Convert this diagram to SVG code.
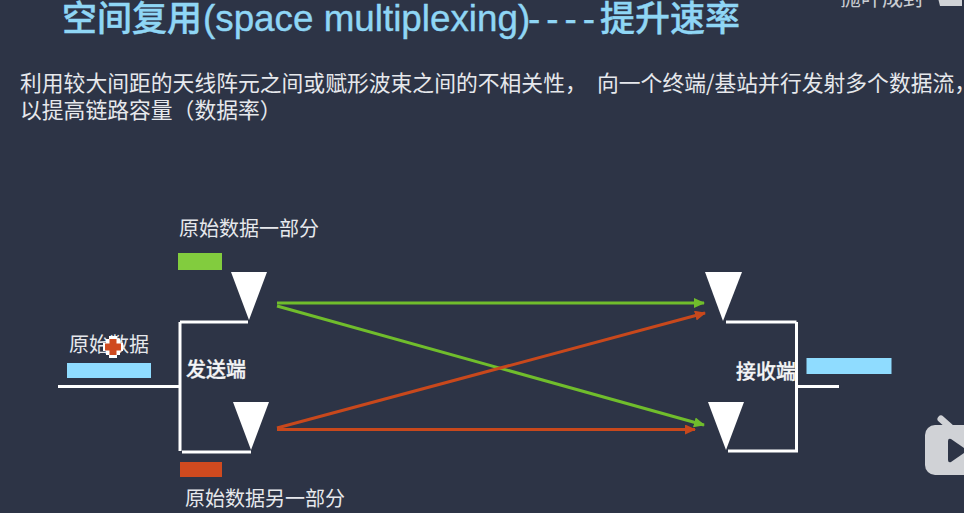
<svg xmlns="http://www.w3.org/2000/svg" width="964" height="513" viewBox="0 0 964 513">
<style>
text{font-family:"Noto Sans CJK SC","Liberation Sans",sans-serif;fill:#e6e8ec}
.title{font-family:"Liberation Sans","Noto Sans CJK SC",sans-serif;font-size:35px;font-weight:500;fill:#8fd6f5;stroke:#8fd6f5;stroke-width:.4px}
.latin{font-size:36.800px}
.dash{font-size:36.800px;letter-spacing:6px}
.body{font-size:21.800px}
.lab{font-size:20px}
.end{font-size:20px;font-weight:500;fill:#f4f5f6;stroke:#f4f5f6;stroke-width:.3px}
.ant{fill:#fff}
.wire{stroke:#fff;stroke-width:3;fill:none}
.g{stroke:#70bd2c;stroke-width:3;fill:none}
.o{stroke:#c8481c;stroke-width:3;fill:none}
</style>
<defs>
<marker id="ag" markerUnits="userSpaceOnUse" markerWidth="12" markerHeight="12" refX="10" refY="5" orient="auto"><path d="M0 0L11 5L0 10z" fill="#70bd2c"/></marker>
<marker id="ao" markerUnits="userSpaceOnUse" markerWidth="12" markerHeight="12" refX="10" refY="5" orient="auto"><path d="M0 0L11 5L0 10z" fill="#c8481c"/></marker>
</defs>
<rect width="964" height="513" fill="#2d3446"/>
<g id="title"><text class="title" x="62" y="31">空间复用<tspan class="latin" x="203">(space multiplexing)</tspan><tspan class="dash" x="528">----</tspan><tspan x="600">提升速率</tspan></text></g>
<g id="intro">
<text class="body" x="20" y="91">利用较大间距的天线阵元之间或赋形波束之间的不相关性，<tspan x="597">向一个终端/基站并行发射多个数据流，</tspan></text>
<text class="body" x="20" y="118">以提高链路容量（数据率）</text>
</g>
<g id="watermark"><text x="840" y="5" font-size="21" style="fill:#c9ccd2">抛叶成封</text><path d="M938 -2h24v8h-22z" fill="#d0d2d6"/></g>
<g id="connectors">
<path class="wire" d="M58 386.500H179M180 322V451M180 322H248M182 452H251M726 322H796.500M796.500 322V452.500M728 451H797M798 386.500H839"/>
<path class="g" d="M277 303H704" marker-end="url(#ag)"/>
<path class="g" d="M277 306L704 425" marker-end="url(#ag)"/>
<path class="o" d="M277 428L705 313" marker-end="url(#ao)"/>
<path class="o" d="M277 429.500H695" marker-end="url(#ao)"/>
</g>
<g id="tx-top"><polygon class="ant" points="231,272 267,272 249,320"/></g>
<g id="tx-bottom"><polygon class="ant" points="233,402 269,402 251,450"/></g>
<g id="rx-top"><polygon class="ant" points="705,272 742,272 723,321"/></g>
<g id="rx-bottom"><polygon class="ant" points="708,402 744,402 726,450"/></g>
<g id="part-one"><text class="lab" x="179" y="236">原始数据一部分</text><rect x="178" y="253" width="44" height="17" fill="#82cc3e"/></g>
<g id="part-two"><rect x="180" y="462" width="42" height="15" fill="#cf4a1f"/><text class="lab" x="185" y="506">原始数据另一部分</text></g>
<g id="source"><text class="lab" x="69" y="352">原始数据</text><rect x="67" y="363" width="84" height="15" fill="#8fdcff"/></g>
<g id="sender"><text class="end" x="186" y="377">发送端</text></g>
<g id="receiver"><text class="end" x="736" y="379">接收端</text></g>
<g id="output"><rect x="806.500" y="358" width="85" height="16" fill="#8fdcff"/></g>
<g id="cursor"><path d="M109 336h8v3h3v4h3v8h-3v4h-3v3h-8v-3h-3v-4h-3v-8h3v-4h3z" fill="#fff"/><path d="M109.500 339h7v4.500h4.500v7h-4.500v4.500h-7v-4.500h-4.500v-7h4.500z" fill="#cf4a1f"/></g>
<g id="logo"><path d="M941 419l9 8" stroke="#d0d2d6" stroke-width="7" stroke-linecap="round"/><rect x="925" y="425" width="60" height="50" rx="10" fill="#d0d2d6"/><path d="M948 441q0-3 3-2l13 9v5l-13 9q-3 1-3-2z" fill="#2d3446"/></g>
</svg>
